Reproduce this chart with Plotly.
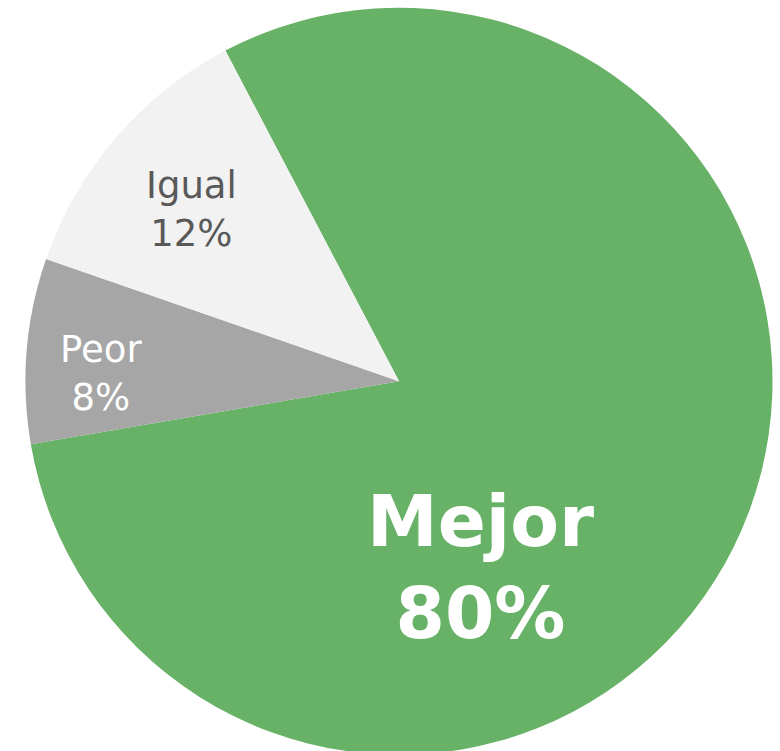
import plotly.graph_objects as go

labels = ["Mejor", "Peor", "Igual"]
values = [80, 8, 12]
colors = ["#67B267", "#A6A6A6", "#F2F2F2"]
text_colors = ["#FFFFFF", "#FFFFFF", "#595959"]
text_sizes = [71, 37, 37]
text_bold = [True, False, False]
# label centres in pixels (x, y from top)
label_pos = [(480, 567), (101, 373), (191, 210)]

W, H = 780, 755

fig = go.Figure(go.Pie(
    labels=labels,
    values=values,
    sort=False,
    direction="clockwise",
    rotation=-27.7,
    marker=dict(colors=colors, line=dict(width=0)),
    textinfo="none",
    hoverinfo="label+percent",
    showlegend=False,
    domain=dict(x=[25.5 / W, 772.5 / W], y=[0, (H - 7.5) / H]),
))

annotations = []
for lab, val, col, sz, b, (px, py) in zip(labels, values, text_colors, text_sizes, text_bold, label_pos):
    txt = f"{lab}<br>{val}%"
    if b:
        txt = f"<b>{lab}</b><br><b>{val}%</b>"
    annotations.append(dict(
        x=px / W, y=(H - py) / H, xref="paper", yref="paper",
        text=txt, showarrow=False, xanchor="center", yanchor="middle",
        font=dict(family="DejaVu Sans, Verdana, sans-serif", size=sz, color=col),
    ))

fig.update_layout(
    width=W, height=H,
    margin=dict(l=0, r=0, t=0, b=0),
    paper_bgcolor="white",
    annotations=annotations,
)

fig.write_html(
    "out.html",
    config={"displayModeBar": False},
    post_script="document.body.style.margin='0';document.body.style.overflow='hidden';",
)
